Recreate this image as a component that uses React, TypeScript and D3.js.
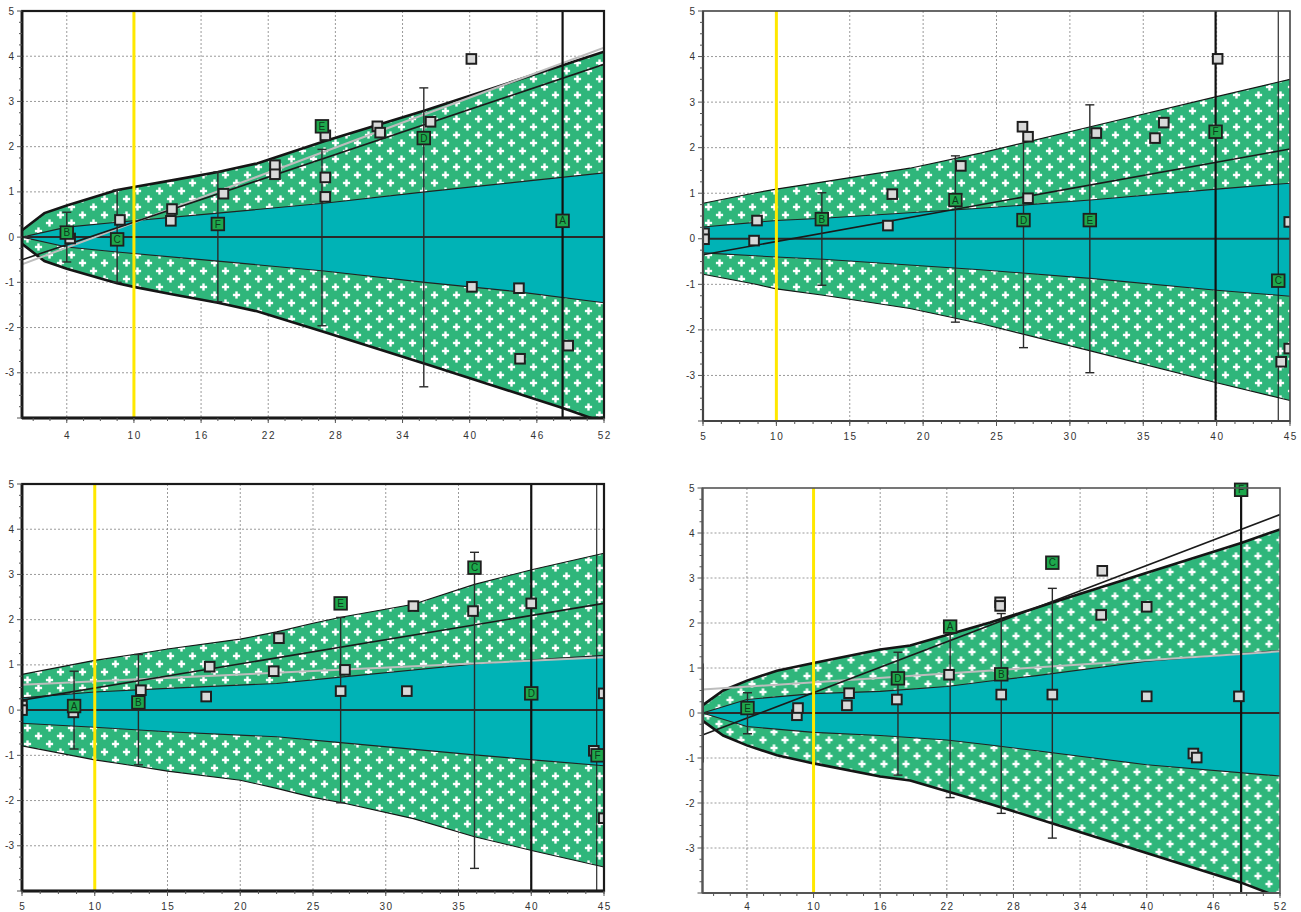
import React from 'react';
import * as d3 from 'd3';

// ---------- Panel 1 (top-left) ----------
const p1OuterX = [0, 2, 4, 8.5, 10, 13.5, 17.5, 21, 27, 36, 48.3, 52];
const p1OuterU = [0.15, 0.53, 0.7, 1.04, 1.11, 1.26, 1.44, 1.63, 2.12, 2.8, 3.8, 4.1];
const p1OuterL = [-0.15, -0.53, -0.7, -1.02, -1.1, -1.27, -1.45, -1.64, -2.1, -2.8, -3.78, -4.1];
const p1InnerX = [0, 4, 8.5, 17.5, 27, 36, 44, 52];
const p1InnerU = [0, 0.22, 0.33, 0.53, 0.75, 1.0, 1.21, 1.42];
const p1InnerL = [0, -0.22, -0.33, -0.53, -0.75, -1.0, -1.2, -1.45];
const p1RegX = [0, 52];
const p1RegY = [-0.5, 3.82];
const p1GreyX = [0, 52];
const p1GreyY = [-0.6, 4.19];
const p1BarLabels = ['B', 'C', 'F', 'E', 'D', 'A'];
const p1BarX = [4.0, 8.5, 17.5, 26.8, 35.9, 48.3];
const p1BarVal = [0.1, -0.05, 0.29, 2.45, 2.19, 0.36];
const p1BarLo = [-0.55, -1.0, -1.43, -1.96, -3.31, -10];
const p1BarHi = [0.55, 1.04, 1.44, 1.94, 3.3, 10];
const p1SqX = [4.3, 8.75, 13.4, 13.3, 18.0, 22.6, 22.6, 27.1, 27.1, 27.1, 31.75, 32.0, 36.5, 40.15, 40.2, 44.4, 44.5, 48.8];
const p1SqY = [-0.03, 0.38, 0.62, 0.36, 0.96, 1.59, 1.39, 2.25, 1.32, 0.89, 2.45, 2.31, 2.55, 3.94, -1.1, -1.13, -2.69, -2.4];
const p1XTicks = [4, 10, 16, 22, 28, 34, 40, 46, 52];
const p1RefX: number[] = [];

// ---------- Panel 2 (top-right) ----------
const p2OuterX = [5, 8.6, 10, 13.2, 19.1, 23.9, 31.4, 40, 45];
const p2OuterU = [0.78, 1.01, 1.09, 1.25, 1.55, 1.88, 2.46, 3.12, 3.5];
const p2OuterL = [-0.78, -1.0, -1.1, -1.24, -1.53, -1.86, -2.46, -3.16, -3.55];
const p2InnerX = [5, 10, 13.2, 23.9, 31.4, 40, 45];
const p2InnerU = [0.26, 0.4, 0.45, 0.67, 0.85, 1.09, 1.22];
const p2InnerL = [-0.31, -0.4, -0.45, -0.68, -0.87, -1.13, -1.26];
const p2RegX = [5, 45];
const p2RegY = [-0.35, 1.97];
const p2GreyX: number[] = [];
const p2GreyY: number[] = [];
const p2BarLabels = ['B', 'A', 'D', 'E', 'F', 'C'];
const p2BarX = [13.1, 22.2, 26.84, 31.36, 39.93, 44.2];
const p2BarVal = [0.43, 0.85, 0.41, 0.41, 2.35, -0.92];
const p2BarLo = [-1.02, -1.83, -2.39, -2.94, -10, NaN];
const p2BarHi = [1.01, 1.82, 2.39, 2.94, 10, NaN];
const p2SqX = [5.07, 5.07, 8.68, 8.48, 17.9, 17.6, 22.57, 26.77, 27.15, 27.15, 31.8, 35.8, 36.4, 40.07, 44.95, 44.4, 44.95];
const p2SqY = [0.12, -0.01, 0.4, -0.04, 0.98, 0.29, 1.6, 2.46, 2.24, 0.89, 2.32, 2.21, 2.55, 3.95, 0.37, -2.7, -2.41];
const p2XTicks = [5, 10, 15, 20, 25, 30, 35, 40, 45];
const p2RefX = [44.2];

// ---------- Panel 3 (bottom-left) ----------
const p3OuterX = [5, 10, 12.9, 15, 20, 22.5, 25, 27, 31.9, 36.1, 40.1, 45];
const p3OuterU = [0.79, 1.1, 1.24, 1.35, 1.57, 1.73, 1.92, 2.06, 2.34, 2.78, 3.11, 3.47];
const p3OuterL = [-0.79, -1.1, -1.24, -1.35, -1.55, -1.73, -1.93, -2.05, -2.4, -2.8, -3.11, -3.47];
const p3InnerX = [5, 10, 15, 22.5, 26.9, 36.1, 40.1, 45];
const p3InnerU = [0.27, 0.4, 0.48, 0.59, 0.73, 1.02, 1.11, 1.21];
const p3InnerL = [-0.29, -0.38, -0.48, -0.59, -0.72, -0.99, -1.1, -1.23];
const p3RegX = [5, 45];
const p3RegY = [0.22, 2.36];
const p3GreyX = [5, 45];
const p3GreyY = [0.56, 1.17];
const p3BarLabels = ['A', 'B', 'E', 'C', 'D', 'F'];
const p3BarX = [8.58, 13.0, 26.9, 36.1, 40.0, 44.56];
const p3BarVal = [0.09, 0.17, 2.36, 3.15, 0.37, -1.0];
const p3BarLo = [-0.86, -1.21, -2.05, -3.5, -10, NaN];
const p3BarHi = [0.86, 1.23, 2.05, 3.49, 10, NaN];
const p3SqX = [5, 5, 8.53, 13.17, 17.9, 17.66, 22.66, 22.3, 27.2, 26.9, 31.9, 31.45, 36.0, 40.0, 44.98, 44.98, 44.3];
const p3SqY = [0.1, 0.0, -0.05, 0.44, 0.96, 0.3, 1.59, 0.86, 0.89, 0.42, 2.3, 0.42, 2.19, 2.36, 0.37, -2.39, -0.9];
const p3XTicks = [5, 10, 15, 20, 25, 30, 35, 40, 45];
const p3RefX = [44.5];

// ---------- Panel 4 (bottom-right) ----------
const p4OuterX = [0, 1.86, 4, 6.7, 10, 16, 18.7, 25.9, 31.6, 48.5, 52];
const p4OuterU = [0.17, 0.5, 0.72, 0.94, 1.11, 1.41, 1.5, 2.01, 2.46, 3.78, 4.08];
const p4OuterL = [-0.17, -0.5, -0.72, -0.94, -1.12, -1.41, -1.5, -2.02, -2.46, -3.77, -4.1];
const p4InnerX = [0, 4, 10, 16, 22, 25.9, 30.1, 40, 52];
const p4InnerU = [0, 0.3, 0.43, 0.48, 0.59, 0.71, 0.83, 1.15, 1.39];
const p4InnerL = [0, -0.3, -0.43, -0.5, -0.6, -0.71, -0.84, -1.15, -1.4];
const p4RegX = [0, 52];
const p4RegY = [-0.49, 4.41];
const p4GreyX = [0, 52];
const p4GreyY = [0.52, 1.37];
const p4BarLabels = ['', 'E', 'D', 'A', 'B', 'C', 'F'];
const p4BarX = [0, 4.05, 17.6, 22.3, 26.9, 31.5, 48.5];
const p4BarVal = [NaN, 0.11, 0.77, 1.92, 0.86, 3.34, 4.96];
const p4BarLo = [-1.1, -0.46, -1.38, -1.88, -2.23, -2.78, -10];
const p4BarHi = [1.1, 0.45, 1.35, 1.8, 2.21, 2.77, 10];
const p4SqX = [8.5, 8.6, 13.2, 13.0, 17.5, 22.2, 26.8, 26.8, 26.9, 31.5, 36.0, 35.9, 40.0, 40.0, 44.2, 44.5, 48.3];
const p4SqY = [-0.05, 0.11, 0.44, 0.17, 0.3, 0.85, 2.46, 2.38, 0.41, 0.41, 3.16, 2.18, 2.36, 0.37, -0.9, -0.99, 0.37];
const p4XTicks = [4, 10, 16, 22, 28, 34, 40, 46, 52];
const p4RefX: number[] = [];

const yTicks = [-3, -2, -1, 0, 1, 2, 3, 4, 5];
const highlightX = 10;

type Cfg = {
  id: string;
  left: number; right: number; top: number; bottom: number; labelY: number;
  xDomain: [number, number]; xTicks: number[]; minorStep: number;
  outerX: number[]; outerU: number[]; outerL: number[];
  innerX: number[]; innerU: number[]; innerL: number[];
  regX: number[]; regY: number[]; greyX: number[]; greyY: number[];
  barLabels: string[]; barX: number[]; barVal: number[]; barLo: number[]; barHi: number[];
  sqX: number[]; sqY: number[]; refX: number[];
  outerW: number; frameColor: string; frameW: number;
};

const panels: Cfg[] = [
  {
    id: 'p1', left: 22, right: 604, top: 11, bottom: 418, labelY: 439, xDomain: [0, 52], xTicks: p1XTicks, minorStep: 1.5,
    outerX: p1OuterX, outerU: p1OuterU, outerL: p1OuterL, innerX: p1InnerX, innerU: p1InnerU, innerL: p1InnerL,
    regX: p1RegX, regY: p1RegY, greyX: p1GreyX, greyY: p1GreyY,
    barLabels: p1BarLabels, barX: p1BarX, barVal: p1BarVal, barLo: p1BarLo, barHi: p1BarHi,
    sqX: p1SqX, sqY: p1SqY, refX: p1RefX, outerW: 2.6, frameColor: '#1a1a1a', frameW: 2.2,
  },
  {
    id: 'p2', left: 703, right: 1290, top: 11, bottom: 421, labelY: 440, xDomain: [5, 45], xTicks: p2XTicks, minorStep: 1.25,
    outerX: p2OuterX, outerU: p2OuterU, outerL: p2OuterL, innerX: p2InnerX, innerU: p2InnerU, innerL: p2InnerL,
    regX: p2RegX, regY: p2RegY, greyX: p2GreyX, greyY: p2GreyY,
    barLabels: p2BarLabels, barX: p2BarX, barVal: p2BarVal, barLo: p2BarLo, barHi: p2BarHi,
    sqX: p2SqX, sqY: p2SqY, refX: p2RefX, outerW: 1.1, frameColor: '#444', frameW: 1.6,
  },
  {
    id: 'p3', left: 22, right: 604, top: 484, bottom: 891, labelY: 910, xDomain: [5, 45], xTicks: p3XTicks, minorStep: 1.25,
    outerX: p3OuterX, outerU: p3OuterU, outerL: p3OuterL, innerX: p3InnerX, innerU: p3InnerU, innerL: p3InnerL,
    regX: p3RegX, regY: p3RegY, greyX: p3GreyX, greyY: p3GreyY,
    barLabels: p3BarLabels, barX: p3BarX, barVal: p3BarVal, barLo: p3BarLo, barHi: p3BarHi,
    sqX: p3SqX, sqY: p3SqY, refX: p3RefX, outerW: 1.1, frameColor: '#1a1a1a', frameW: 2.2,
  },
  {
    id: 'p4', left: 702.5, right: 1280, top: 488, bottom: 893, labelY: 910, xDomain: [0, 52], xTicks: p4XTicks, minorStep: 1.5,
    outerX: p4OuterX, outerU: p4OuterU, outerL: p4OuterL, innerX: p4InnerX, innerU: p4InnerU, innerL: p4InnerL,
    regX: p4RegX, regY: p4RegY, greyX: p4GreyX, greyY: p4GreyY,
    barLabels: p4BarLabels, barX: p4BarX, barVal: p4BarVal, barLo: p4BarLo, barHi: p4BarHi,
    sqX: p4SqX, sqY: p4SqY, refX: p4RefX, outerW: 2.6, frameColor: '#555', frameW: 1.6,
  },
];

const GREEN = '#2fb67b';
const TEAL = '#00b3b6';
const MARK = '#1ea84c';
const FONT = '"Liberation Sans", Arial, sans-serif';

function Panel({ c }: { c: Cfg }) {
  const x = d3.scaleLinear().domain(c.xDomain).range([c.left, c.right]);
  const y = d3.scaleLinear().domain([-4, 5]).range([c.bottom, c.top]);
  const area = d3.area<number>()
    .x((i) => x(c.outerX[i]))
    .y0((i) => y(c.outerL[i]))
    .y1((i) => y(c.outerU[i]));
  const innerArea = d3.area<number>()
    .x((i) => x(c.innerX[i]))
    .y0((i) => y(c.innerL[i]))
    .y1((i) => y(c.innerU[i]));
  const line = d3.line<[number, number]>().x((d) => x(d[0])).y((d) => y(d[1]));
  const oIdx = d3.range(c.outerX.length);
  const iIdx = d3.range(c.innerX.length);
  const upperO = line(c.outerX.map((v, i) => [v, c.outerU[i]]))!;
  const lowerO = line(c.outerX.map((v, i) => [v, c.outerL[i]]))!;
  const upperI = line(c.innerX.map((v, i) => [v, c.innerU[i]]))!;
  const lowerI = line(c.innerX.map((v, i) => [v, c.innerL[i]]))!;
  const reg = line(c.regX.map((v, i) => [v, c.regY[i]]));
  const grey = c.greyX.length ? line(c.greyX.map((v, i) => [v, c.greyY[i]])) : null;

  const first = c.xTicks[0];
  const minorStart = first - Math.floor((first - c.xDomain[0]) / c.minorStep + 1e-9) * c.minorStep;
  const xMinor = d3.range(minorStart, c.xDomain[1] + 1e-6, c.minorStep);
  const yMinor = d3.range(-4, 5 + 1e-6, 0.25);
  const clip = `clip-${c.id}`;
  const pat = `pat-${c.id}`;
  const w = c.right - c.left;
  const h = c.bottom - c.top;

  return (
    <g>
      <defs>
        <clipPath id={clip}>
          <rect x={c.left} y={c.top} width={w} height={h} />
        </clipPath>
        <pattern id={pat} patternUnits="userSpaceOnUse" width={22} height={16} x={c.left} y={c.top}>
          <rect width={22} height={16} fill={GREEN} />
          {[[5.5, 4], [16.5, 12]].map(([px, py], k) => (
            <g key={k} fill="#fff">
              <rect x={px - 3.6} y={py - 1.2} width={7.2} height={2.4} />
              <rect x={px - 1.2} y={py - 3.6} width={2.4} height={7.2} />
            </g>
          ))}
        </pattern>
      </defs>
      <rect x={c.left} y={c.top} width={w} height={h} fill="#fff" />
      {/* grid */}
      <g stroke="#9a9a9a" strokeWidth={1} strokeDasharray="2,2">
        {c.xTicks.filter((t) => t > c.xDomain[0] && t < c.xDomain[1]).map((t) => (
          <line key={'gx' + t} x1={x(t)} x2={x(t)} y1={c.top} y2={c.bottom} />
        ))}
        {yTicks.filter((t) => t < 5).map((t) => (
          <line key={'gy' + t} x1={c.left} x2={c.right} y1={y(t)} y2={y(t)} />
        ))}
      </g>
      <g clipPath={`url(#${clip})`}>
        <path d={area(oIdx)!} fill={`url(#${pat})`} />
        <path d={innerArea(iIdx)!} fill={TEAL} />
        <path d={upperI} fill="none" stroke="#222" strokeWidth={1.1} />
        <path d={lowerI} fill="none" stroke="#222" strokeWidth={1.1} />
        <line x1={c.left} x2={c.right} y1={y(0)} y2={y(0)} stroke="#2a2a2a" strokeWidth={2} />
        <path d={upperO} fill="none" stroke="#151515" strokeWidth={c.outerW} />
        <path d={lowerO} fill="none" stroke="#151515" strokeWidth={c.outerW} />
        {grey && <path d={grey} fill="none" stroke="#bdbdbd" strokeWidth={2} />}
        {reg && <path d={reg} fill="none" stroke="#1a1a1a" strokeWidth={1.6} />}
        <line x1={x(highlightX)} x2={x(highlightX)} y1={c.top} y2={c.bottom} stroke="#ffe800" strokeWidth={3} />
        {c.refX.map((r) => (
          <line key={'r' + r} x1={x(r)} x2={x(r)} y1={c.top} y2={c.bottom} stroke="#1a1a1a" strokeWidth={1.1} />
        ))}
        {c.barX.map((bx, i) => {
          const lo = c.barLo[i];
          const hi = c.barHi[i];
          if (isNaN(lo)) return null;
          const full = lo <= -4 && hi >= 5;
          const xx = x(bx);
          return (
            <g key={'b' + i} stroke={full ? '#111' : '#2a2a2a'} strokeWidth={full ? 2.2 : 1.4}>
              <line x1={xx} x2={xx} y1={y(lo)} y2={y(hi)} />
              {!full && c.barLabels[i] !== '' && (
                <>
                  <line x1={xx - 4.5} x2={xx + 4.5} y1={y(lo)} y2={y(lo)} />
                  <line x1={xx - 4.5} x2={xx + 4.5} y1={y(hi)} y2={y(hi)} />
                </>
              )}
              {c.barLabels[i] === '' && <line x1={xx} x2={xx} y1={y(lo)} y2={y(hi)} strokeWidth={3} />}
            </g>
          );
        })}
        {c.sqX.map((sx, i) => (
          <rect key={'s' + i} x={x(sx) - 4.8} y={y(c.sqY[i]) - 4.8} width={9.6} height={9.6}
            fill="#d9d9d9" stroke="#1f1f1f" strokeWidth={2} />
        ))}
      </g>
      {c.barX.map((bx, i) => {
        const lab = c.barLabels[i];
        if (!lab || isNaN(c.barVal[i])) return null;
        const cx = x(bx);
        const cy = y(c.barVal[i]);
        return (
          <g key={'m' + i}>
            <rect x={cx - 6.3} y={cy - 6.3} width={12.6} height={12.6} fill={MARK} stroke="#1f1f1f" strokeWidth={1.8} />
            <text x={cx} y={cy + 3.6} textAnchor="middle" fontSize={10} fontFamily={FONT} fill="#0d3a1c">{lab}</text>
          </g>
        );
      })}
      {/* frame & axes */}
      <rect x={c.left} y={c.top} width={w} height={h} fill="none" stroke={c.frameColor} strokeWidth={c.frameW} />
      <line x1={c.left} x2={c.left} y1={c.top} y2={c.bottom} stroke={c.frameColor} strokeWidth={c.frameW + 0.6} />
      <line x1={c.left} x2={c.right} y1={c.bottom} y2={c.bottom} stroke={c.frameColor} strokeWidth={c.frameW + 0.6} />
      <g stroke="#555" strokeWidth={1}>
        {yMinor.map((t) => (
          <line key={'ym' + t} x1={c.left - (Math.abs(t - Math.round(t)) < 1e-6 ? 5 : 3)} x2={c.left} y1={y(t)} y2={y(t)} />
        ))}
        {xMinor.map((t) => (
          <line key={'xm' + t} x1={x(t)} x2={x(t)} y1={c.bottom} y2={c.bottom + 3} />
        ))}
        {c.xTicks.map((t) => (
          <line key={'xM' + t} x1={x(t)} x2={x(t)} y1={c.bottom} y2={c.bottom + 5} />
        ))}
      </g>
      <g fontFamily={FONT} fontSize={10} fill="#333">
        {yTicks.map((t) => (
          <text key={'yl' + t} x={c.left - 8} y={y(t) + 3.5} textAnchor="end">{t}</text>
        ))}
        {c.xTicks.map((t) => (
          <text key={'xl' + t} x={x(t) + 0.8} y={c.labelY} textAnchor="middle" letterSpacing={1.6}>{t}</text>
        ))}
      </g>
    </g>
  );
}

export default function App() {
  return (
    <svg width={1301} height={912} style={{ position: 'absolute', left: 0, top: 0, background: '#fff' }}>
      {panels.map((c) => (
        <Panel key={c.id} c={c} />
      ))}
    </svg>
  );
}
